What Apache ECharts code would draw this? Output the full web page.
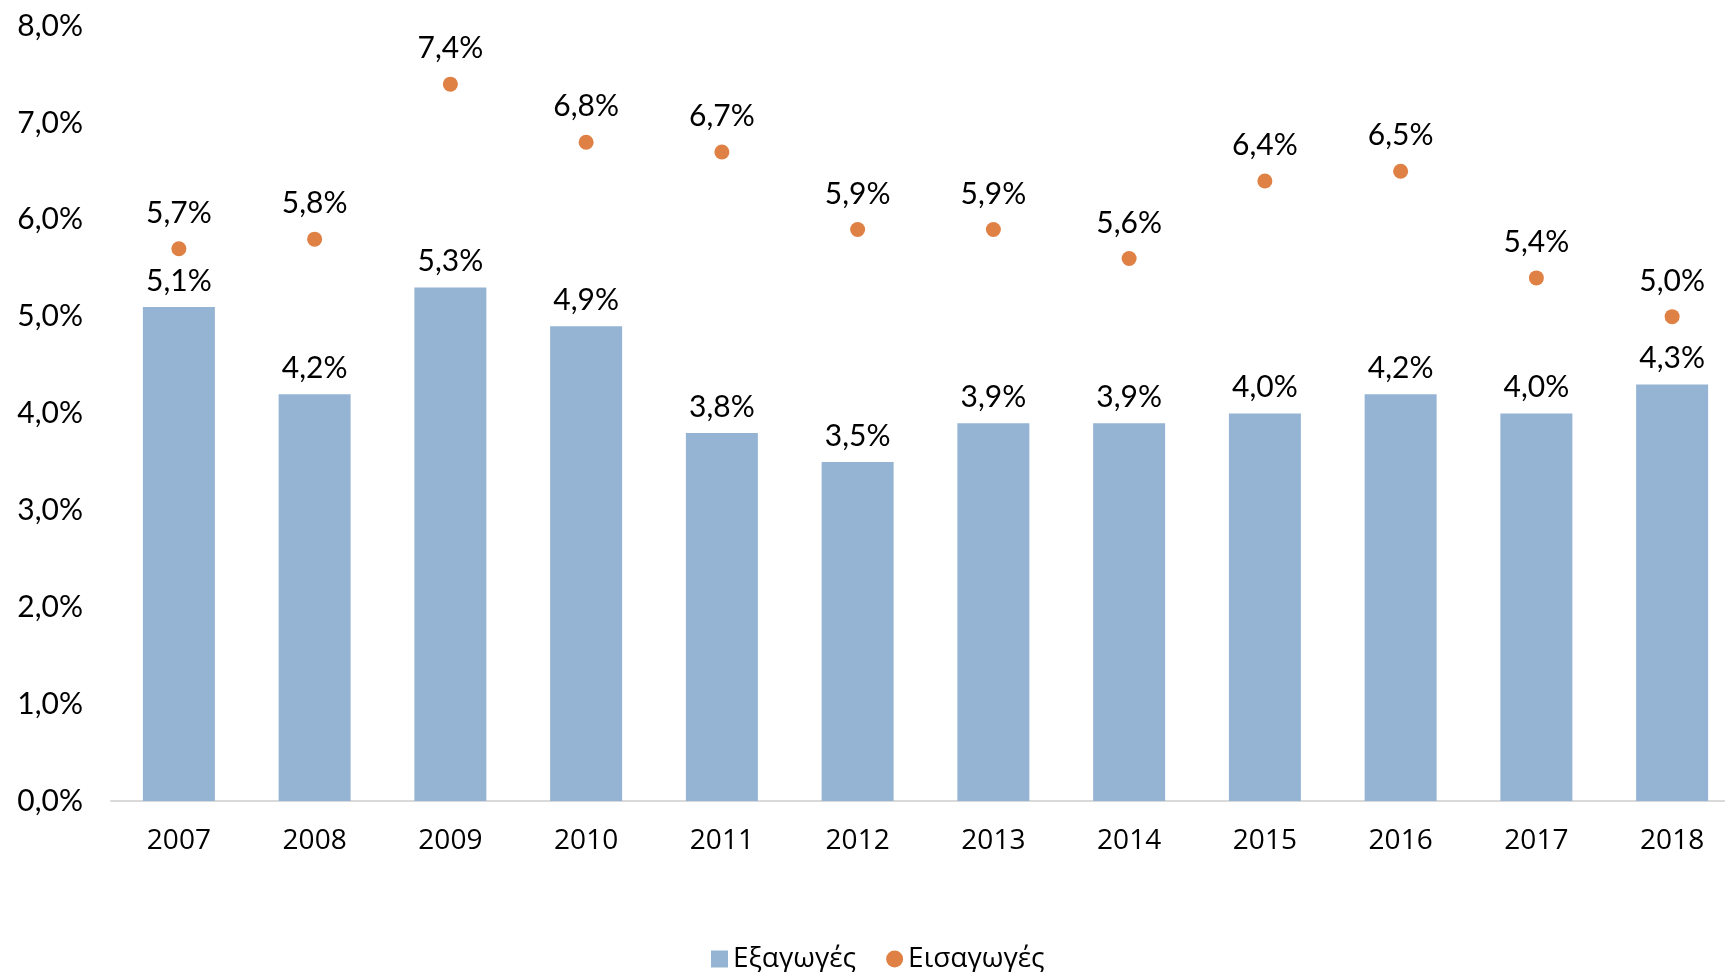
<!DOCTYPE html>
<html>
<head>
<meta charset="utf-8">
<style>
  html, body { margin: 0; padding: 0; background: #ffffff; }
  #chart { width: 1725px; height: 972px; }
</style>
<script src="https://cdn.jsdelivr.net/npm/echarts@6/dist/echarts.min.js"></script>
</head>
<body>
<div id="chart"></div>
<script>
// Years on the category axis
const years = ['2007', '2008', '2009', '2010', '2011', '2012', '2013', '2014', '2015', '2016', '2017', '2018'];
// Share (%) – exports (bars) and imports (dots)
const exportsPct = [5.1, 4.2, 5.3, 4.9, 3.8, 3.5, 3.9, 3.9, 4.0, 4.2, 4.0, 4.3];
const importsPct = [5.7, 5.8, 7.4, 6.8, 6.7, 5.9, 5.9, 5.6, 6.4, 6.5, 5.4, 5.0];
// Value axis ticks
const yTicks = [0, 1, 2, 3, 4, 5, 6, 7, 8];

const fmt = v => v.toFixed(1).replace('.', ',') + '%';
const valueFont = 'Lato, "Noto Sans", sans-serif';
const textFont = '"Open Sans", "Noto Sans", sans-serif';

const chart = echarts.init(document.getElementById('chart'));
chart.setOption({
  animation: false,
  backgroundColor: '#ffffff',
  grid: {
    left: 111, width: 1629, top: 26, bottom: 171,
    containLabel: false,
    outerBoundsMode: 'none'
  },
  legend: {
    left: 706,
    top: 940,
    itemWidth: 17,
    itemHeight: 17,
    itemGap: 30,
    textStyle: { fontFamily: textFont, fontSize: 28, color: '#000000', padding: [0, 0, 0, 0] },
    data: [
      { name: 'Εξαγωγές', icon: 'rect' },
      { name: 'Εισαγωγές', icon: 'circle' }
    ]
  },
  xAxis: {
    type: 'category',
    data: years,
    axisLine: { lineStyle: { color: '#d9d9d9', width: 2 } },
    axisTick: { show: false },
    axisLabel: { margin: 26, fontFamily: textFont, fontSize: 28, color: '#000000' }
  },
  yAxis: {
    type: 'value',
    min: yTicks[0],
    max: yTicks[yTicks.length - 1],
    interval: 1,
    splitLine: { show: false },
    axisLine: { show: false },
    axisTick: { show: false },
    axisLabel: {
      margin: 28,
      fontFamily: valueFont,
      fontSize: 30,
      color: '#000000',
      formatter: v => fmt(v)
    }
  },
  series: [
    {
      name: 'Εξαγωγές',
      type: 'bar',
      data: exportsPct,
      barWidth: 72,
      itemStyle: { color: '#95b4d3' },
      label: {
        show: true,
        position: 'top',
        distance: 11,
        fontFamily: valueFont,
        fontSize: 30,
        color: '#000000',
        formatter: p => fmt(p.value)
      }
    },
    {
      name: 'Εισαγωγές',
      type: 'scatter',
      data: importsPct,
      symbol: 'circle',
      symbolSize: 15,
      itemStyle: { color: '#df8044', opacity: 1 },
      label: {
        show: true,
        position: 'top',
        distance: 13,
        fontFamily: valueFont,
        fontSize: 30,
        color: '#000000',
        formatter: p => fmt(p.value)
      }
    }
  ]
});
</script>
</body>
</html>
